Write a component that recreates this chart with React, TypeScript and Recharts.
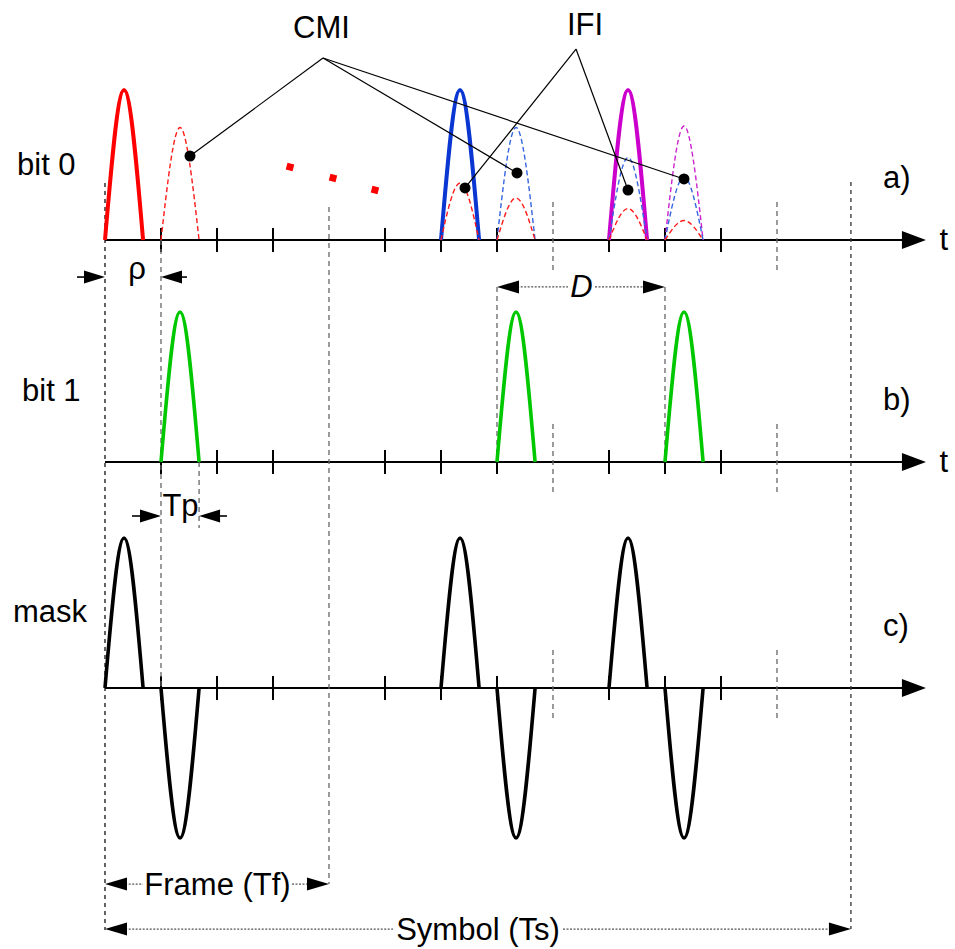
import React from 'react';
import { ComposedChart, Line, XAxis, YAxis, ReferenceLine, ReferenceDot } from 'recharts';

// ---------------- data ----------------
const PULSE_WIDTH = 0.68; // Tp, in chips
const tickChips = [1, 2, 3, 5, 6, 7, 9, 10, 11];
const frameBoundaryChips = [4, 8, 12];
const symbolEndChip = 13.32;
const axisEndChip = 14.66;

// bit 0 panel: chip, amplitude, user series, delayed copy?
const bit0Chips = [0, 1, 6, 6, 7, 7, 9, 9, 9, 10, 10, 10];
const bit0Amps = [1.0, 0.75, 1.0, 0.38, 0.75, 0.28, 1.0, 0.55, 0.21, 0.76, 0.42, 0.13];
const bit0Series = ['red', 'red', 'blue', 'red', 'blue', 'red', 'magenta', 'blue', 'red', 'magenta', 'blue', 'red'];
const bit0Delayed = [false, true, false, true, true, true, false, true, true, true, true, true];

const bit1Chips = [1, 7, 10];
const bit1Amps = [1, 1, 1];

const maskPosChips = [0, 6, 9];
const maskNegChips = [1, 7, 10];
const maskAmps = [1, 1, 1];

const ellipsisChips = [3.304, 4.071, 4.821];
const ellipsisAmps = [0.487, 0.413, 0.333];

const cmiTargetChips = [1.518, 7.357, 10.339];
const cmiTargetAmps = [0.56, 0.447, 0.407];
const ifiTargetChips = [6.429, 9.339];
const ifiTargetAmps = [0.347, 0.333];

// ---------------- layout ----------------
const WIDTH = 955;
const HEIGHT = 949;
const FONT = '"Liberation Sans", Arial, Helvetica, sans-serif';
const FS = 31;
// one chip = 56 px, time origin at x = 105 px; one amplitude unit = 150 px
const X_DOMAIN: [number, number] = [-105 / 56, (WIDTH - 105) / 56];
const Y_DOMAIN: [number, number] = [0, HEIGHT / 150];
const BASE_A = (HEIGHT - 240) / 150;
const BASE_B = (HEIGHT - 462) / 150;
const BASE_C = (HEIGHT - 688) / 150;
const BASES = [BASE_A, BASE_B, BASE_C];

const SOLID_COLOR: Record<string, string> = { red: '#ff0000', blue: '#0a36d2', magenta: '#cc00cc' };
const DASH_COLOR: Record<string, string> = { red: '#ff1a1a', blue: '#3565e0', magenta: '#cc22cc' };
const GREEN = '#00c800';

const cmiHub = { chip: 3.893, amp: 1.213 };
const ifiHub = { chip: 8.411, amp: 1.273 };

type Pt = { x: number; y: number };
const pulsePoints = (chip: number, amp: number, base: number) => [
  { x: chip, y: base },
  { x: chip + PULSE_WIDTH / 2, y: base + amp },
  { x: chip + PULSE_WIDTH, y: base },
];

type ArrowOpts = { start?: boolean; end?: boolean; len?: number; half?: number; stroke?: string; width?: number; dash?: string };
const arrowShape = (o: ArrowOpts) => (p: any) => {
  const x1 = Number(p.x1), y1 = Number(p.y1), x2 = Number(p.x2), y2 = Number(p.y2);
  const dx = x2 - x1, dy = y2 - y1;
  const L = Math.hypot(dx, dy) || 1;
  const ux = dx / L, uy = dy / L, nx = -uy, ny = ux;
  const len = o.len ?? 20, half = o.half ?? 7;
  const head = (tx: number, ty: number, dir: number) => {
    const bx = tx - dir * ux * len, by = ty - dir * uy * len;
    return `${tx},${ty} ${bx + nx * half},${by + ny * half} ${bx - nx * half},${by - ny * half}`;
  };
  const sx = o.start ? x1 + ux * len * 0.6 : x1;
  const sy = o.start ? y1 + uy * len * 0.6 : y1;
  const ex = o.end ? x2 - ux * len * 0.6 : x2;
  const ey = o.end ? y2 - uy * len * 0.6 : y2;
  return (
    <g>
      <line x1={sx} y1={sy} x2={ex} y2={ey} stroke={o.stroke ?? '#000'} strokeWidth={o.width ?? 1.5} strokeDasharray={o.dash} />
      {o.start ? <polygon points={head(x1, y1, -1)} fill="#000" /> : null}
      {o.end ? <polygon points={head(x2, y2, 1)} fill="#000" /> : null}
    </g>
  );
};

type TextOpts = { anchor?: 'start' | 'middle' | 'end'; italic?: boolean; size?: number };
const textShape = (t: string, o: TextOpts = {}) => (p: any) => (
  <text
    x={p.cx}
    y={p.cy}
    textAnchor={o.anchor ?? 'middle'}
    fontFamily={FONT}
    fontSize={o.size ?? FS}
    fontStyle={o.italic ? 'italic' : 'normal'}
    fill="#000"
  >
    {t}
  </text>
);

const seg = (key: string, a: Pt, b: Pt, props: any) => (
  <ReferenceLine key={key} segment={[a, b]} ifOverflow="visible" {...props} />
);

const label = (key: string, t: string, x: number, y: number, o: TextOpts = {}) => (
  <ReferenceDot key={key} x={x} y={y} r={1} ifOverflow="visible" shape={textShape(t, o)} />
);

const pulseLine = (key: string, chip: number, amp: number, base: number, color: string, width: number, dash?: string) => (
  <Line
    key={key}
    data={pulsePoints(chip, amp, base)}
    dataKey="y"
    type="natural"
    stroke={color}
    strokeWidth={width}
    strokeDasharray={dash}
    dot={false}
    activeDot={false}
    legendType="none"
    isAnimationActive={false}
  />
);

const DIM = { stroke: '#555', width: 1.2, dash: '2 1.5', len: 22, half: 6.5 };
const GRAY_DASH = { stroke: '#666', strokeWidth: 1.3, strokeDasharray: '5 4' };
const BLACK_DASH = { stroke: '#111', strokeWidth: 1.3, strokeDasharray: '4 4' };

export default function App() {
  const elements: React.ReactNode[] = [];

  // time axes with arrows and ticks
  BASES.forEach((b, i) => {
    elements.push(
      seg(`axis${i}`, { x: 0, y: b }, { x: axisEndChip, y: b }, {
        shape: arrowShape({ end: true, len: 24, half: 9, width: 2.2 }),
      })
    );
    tickChips.forEach((c) =>
      elements.push(seg(`tick${i}-${c}`, { x: c, y: b - 0.08 }, { x: c, y: b + 0.08 }, { stroke: '#000', strokeWidth: 2 }))
    );
    frameBoundaryChips
      .filter((c) => c !== 4)
      .forEach((c) =>
        elements.push(seg(`fb${i}-${c}`, { x: c, y: b + 0.253 }, { x: c, y: b - 0.227 }, GRAY_DASH))
      );
  });

  // long dashed verticals
  elements.push(seg('v0', { x: 0, y: BASE_A + 0.38 }, { x: 0, y: BASE_C - 1.613 }, BLACK_DASH));
  elements.push(seg('v1', { x: 1, y: BASE_A }, { x: 1, y: BASE_C }, GRAY_DASH));
  elements.push(seg('vtp', { x: 1 + PULSE_WIDTH, y: BASE_B }, { x: 1 + PULSE_WIDTH, y: BASE_B - 0.44 }, GRAY_DASH));
  elements.push(seg('v4', { x: 4, y: BASE_A + 0.22 }, { x: 4, y: BASE_C - 1.307 }, GRAY_DASH));
  elements.push(seg('vs', { x: symbolEndChip, y: BASE_A + 0.387 }, { x: symbolEndChip, y: BASE_C - 1.607 }, { ...BLACK_DASH, stroke: '#333' }));
  elements.push(seg('vd1', { x: 7, y: BASE_A - 0.313 }, { x: 7, y: BASE_B }, GRAY_DASH));
  elements.push(seg('vd2', { x: 10, y: BASE_A - 0.313 }, { x: 10, y: BASE_B }, GRAY_DASH));

  // pulses: bit 0
  bit0Chips.forEach((c, i) => {
    const delayed = bit0Delayed[i];
    const s = bit0Series[i];
    elements.push(
      pulseLine(`b0-${i}`, c, bit0Amps[i], BASE_A, delayed ? DASH_COLOR[s] : SOLID_COLOR[s], delayed ? 1.4 : 4, delayed ? '5 3' : undefined)
    );
  });
  // bit 1
  bit1Chips.forEach((c, i) => elements.push(pulseLine(`b1-${i}`, c, bit1Amps[i], BASE_B, GREEN, 3.6)));
  // mask
  maskPosChips.forEach((c, i) => elements.push(pulseLine(`mp-${i}`, c, maskAmps[i], BASE_C, '#000', 3.6)));
  maskNegChips.forEach((c, i) => elements.push(pulseLine(`mn-${i}`, c, -maskAmps[i], BASE_C, '#000', 3.6)));

  // CMI / IFI pointer lines
  cmiTargetChips.forEach((c, i) =>
    elements.push(seg(`cmi${i}`, { x: cmiHub.chip, y: BASE_A + cmiHub.amp }, { x: c, y: BASE_A + cmiTargetAmps[i] }, { stroke: '#000', strokeWidth: 1.2 }))
  );
  ifiTargetChips.forEach((c, i) =>
    elements.push(seg(`ifi${i}`, { x: ifiHub.chip, y: BASE_A + ifiHub.amp }, { x: c, y: BASE_A + ifiTargetAmps[i] }, { stroke: '#000', strokeWidth: 1.2 }))
  );
  [...cmiTargetChips.map((c, i) => [c, cmiTargetAmps[i]]), ...ifiTargetChips.map((c, i) => [c, ifiTargetAmps[i]])].forEach(([c, a], i) =>
    elements.push(<ReferenceDot key={`dot${i}`} x={c} y={BASE_A + a} r={5.5} fill="#000" stroke="none" ifOverflow="visible" />)
  );

  // red ellipsis squares
  ellipsisChips.forEach((c, i) =>
    elements.push(
      <ReferenceDot
        key={`ell${i}`}
        x={c}
        y={BASE_A + ellipsisAmps[i]}
        r={3}
        ifOverflow="visible"
        shape={(p: any) => (
          <rect x={p.cx - 3.5} y={p.cy - 3.5} width={7} height={7} fill="#ff0000" transform={`rotate(14 ${p.cx} ${p.cy})`} />
        )}
      />
    )
  );

  // dimension arrows
  const solidDim = arrowShape({ end: true, len: 21, half: 6.5, width: 1.6 });
  elements.push(seg('rhoL', { x: -0.5, y: BASE_A - 0.247 }, { x: 0, y: BASE_A - 0.247 }, { shape: solidDim }));
  elements.push(seg('rhoR', { x: 1.464, y: BASE_A - 0.247 }, { x: 1, y: BASE_A - 0.247 }, { shape: solidDim }));
  elements.push(seg('tpL', { x: 0.482, y: BASE_B - 0.36 }, { x: 1, y: BASE_B - 0.36 }, { shape: solidDim }));
  elements.push(seg('tpR', { x: 2.179, y: BASE_B - 0.36 }, { x: 1 + PULSE_WIDTH, y: BASE_B - 0.36 }, { shape: solidDim }));

  const dimStart = arrowShape({ ...DIM, start: true });
  const dimEnd = arrowShape({ ...DIM, end: true });
  elements.push(seg('dL', { x: 7, y: BASE_A - 0.313 }, { x: 8.268, y: BASE_A - 0.313 }, { shape: dimStart }));
  elements.push(seg('dR', { x: 8.75, y: BASE_A - 0.313 }, { x: 10, y: BASE_A - 0.313 }, { shape: dimEnd }));
  elements.push(seg('fL', { x: 0, y: BASE_C - 1.307 }, { x: 0.679, y: BASE_C - 1.307 }, { shape: dimStart }));
  elements.push(seg('fR', { x: 3.339, y: BASE_C - 1.307 }, { x: 4, y: BASE_C - 1.307 }, { shape: dimEnd }));
  elements.push(seg('sL', { x: 0, y: BASE_C - 1.607 }, { x: 5.143, y: BASE_C - 1.607 }, { shape: dimStart }));
  elements.push(seg('sR', { x: 8.179, y: BASE_C - 1.607 }, { x: symbolEndChip, y: BASE_C - 1.607 }, { shape: dimEnd }));

  // text labels
  elements.push(label('lbit0', 'bit 0', -1.571, BASE_A + 0.433, { anchor: 'start' }));
  elements.push(label('lbit1', 'bit 1', -1.482, BASE_B + 0.407, { anchor: 'start' }));
  elements.push(label('lmask', 'mask', -1.643, BASE_C + 0.44, { anchor: 'start' }));
  elements.push(label('la', 'a)', 13.893, BASE_A + 0.347, { anchor: 'start' }));
  elements.push(label('lb', 'b)', 13.893, BASE_B + 0.347, { anchor: 'start' }));
  elements.push(label('lc', 'c)', 13.893, BASE_C + 0.347, { anchor: 'start' }));
  elements.push(label('lta', 't', 14.98, BASE_A - 0.067));
  elements.push(label('ltb', 't', 14.98, BASE_B - 0.067));
  elements.push(label('lcmi', 'CMI', 3.866, BASE_A + 1.347));
  elements.push(label('lifi', 'IFI', 8.571, BASE_A + 1.367));
  elements.push(label('lrho', 'ρ', 0.571, BASE_A - 0.26));
  elements.push(label('lD', 'D', 8.509, BASE_A - 0.38, { italic: true }));
  elements.push(label('lTp', 'Tp', 1.348, BASE_B - 0.36));
  elements.push(label('lframe', 'Frame (Tf)', 2.009, BASE_C - 1.38));
  elements.push(label('lsym', 'Symbol (Ts)', 6.661, BASE_C - 1.68));

  return (
    <div style={{ width: WIDTH, height: HEIGHT, background: '#fff' }}>
      <style>{'body{margin:0;overflow:hidden;background:#fff}'}</style>
      <ComposedChart width={WIDTH} height={HEIGHT} margin={{ top: 0, right: 0, bottom: 0, left: 0 }}>
        <XAxis dataKey="x" type="number" domain={X_DOMAIN} allowDataOverflow hide />
        <YAxis dataKey="y" type="number" domain={Y_DOMAIN} allowDataOverflow hide />
        {elements}
      </ComposedChart>
    </div>
  );
}
